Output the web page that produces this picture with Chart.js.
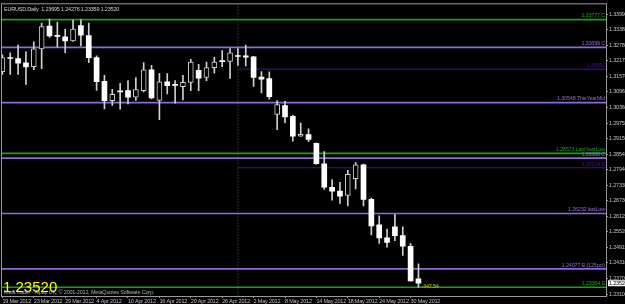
<!DOCTYPE html>
<html>
<head>
<meta charset="utf-8">
<script src="https://cdn.jsdelivr.net/npm/chart.js@4.4.1/dist/chart.umd.min.js"></script>
<style>
  html, body { margin: 0; padding: 0; background: #000; }
  #wrap { width: 625px; height: 304px; }
</style>
</head>
<body>
<div id="wrap"><canvas id="c"></canvas></div>
<script>
// EURUSD daily, 19 Mar 2012 .. 31 May 2012
const symbol = 'EURUSD,Daily';
const dateLabels = ['19 Mar 2012', '23 Mar 2012', '29 Mar 2012', '4 Apr 2012', '10 Apr 2012', '16 Apr 2012',
  '20 Apr 2012', '26 Apr 2012', '2 May 2012', '8 May 2012', '14 May 2012', '18 May 2012', '24 May 2012', '30 May 2012'];

const opens = [1.31758, 1.32277, 1.32258, 1.32093, 1.31950, 1.32643, 1.33528, 1.33143, 1.33105, 1.32951,
  1.33547, 1.33162, 1.32297, 1.31373, 1.30623, 1.30988, 1.31015, 1.30757, 1.31015, 1.31823,
  1.30630, 1.31361, 1.31238, 1.31169, 1.31335, 1.31808, 1.31527, 1.31912, 1.32162, 1.32154,
  1.32362, 1.32374, 1.32335, 1.31538, 1.31488, 1.30092, 1.30438, 1.30015, 1.29245, 1.29307,
  1.28960, 1.28168, 1.27256, 1.27102, 1.26936, 1.27590, 1.28129, 1.26782, 1.25793, 1.25282,
  1.25716, 1.25370, 1.24958, 1.23695];
const highs = [1.32412, 1.32489, 1.32797, 1.32527, 1.32912, 1.33643, 1.33797, 1.33682, 1.33412, 1.33759,
  1.33778, 1.33643, 1.32374, 1.31615, 1.31065, 1.31296, 1.31411, 1.31527, 1.32104, 1.32000,
  1.31692, 1.31681, 1.31411, 1.31615, 1.32231, 1.32039, 1.32131, 1.32323, 1.32577, 1.32654,
  1.32654, 1.32785, 1.32354, 1.31758, 1.31746, 1.30630, 1.30603, 1.30053, 1.29757, 1.29526,
  1.28987, 1.28641, 1.27552, 1.27448, 1.27910, 1.28218, 1.28160, 1.26832, 1.26140, 1.25628,
  1.26205, 1.25716, 1.25062, 1.24276];
const lows = [1.31642, 1.31642, 1.31642, 1.31258, 1.31835, 1.31873, 1.33085, 1.32720, 1.32489, 1.32931,
  1.32758, 1.32104, 1.31027, 1.30307, 1.30438, 1.30296, 1.30499, 1.30630, 1.30969, 1.30692,
  1.29884, 1.30884, 1.30526, 1.30653, 1.31015, 1.31015, 1.31400, 1.31692, 1.31950, 1.31488,
  1.32000, 1.31977, 1.31181, 1.30923, 1.30680, 1.29499, 1.29757, 1.29053, 1.29237, 1.29026,
  1.28141, 1.27167, 1.26755, 1.26628, 1.26524, 1.27190, 1.26524, 1.25397, 1.25074, 1.24920,
  1.25178, 1.24600, 1.23600, 1.23359];
const closes = [1.32297, 1.32266, 1.32085, 1.31939, 1.32643, 1.33509, 1.33143, 1.33124, 1.32951, 1.33412,
  1.33170, 1.32297, 1.31361, 1.30623, 1.30873, 1.30969, 1.30757, 1.31054, 1.31823, 1.30730,
  1.31361, 1.31208, 1.31219, 1.31335, 1.32131, 1.31500, 1.31912, 1.32131, 1.32143, 1.32489,
  1.32343, 1.32316, 1.31527, 1.31461, 1.30784, 1.30476, 1.29988, 1.29245, 1.29314, 1.29114,
  1.28168, 1.27256, 1.27102, 1.26909, 1.27756, 1.28129, 1.26782, 1.25755, 1.25282, 1.25112,
  1.25370, 1.24958, 1.23611, 1.23520];

const priceTicks = [1.23100, 1.23705, 1.24310, 1.24915, 1.25520, 1.26125, 1.26730, 1.27335, 1.27940, 1.28545,
  1.29150, 1.29755, 1.30360, 1.30965, 1.31570, 1.32175, 1.32780, 1.33385, 1.33990];

// horizontal levels
const levelValues = [1.33777, 1.32699, 1.31850, 1.30548, 1.28573, 1.28388, 1.28014, 1.26232, 1.24077, 1.23364];
const levelTexts = ['1.33777 C', '1.32699 C', '1.31850', '1.30548 ThisYearMid', '1.28573 LastYearLow',
  '1.28388 C', '1.28014 E', '1.26232 lastLow', '1.24077 E (125pct)', '1.23364 E'];
const levelKinds = ['green', 'purple', 'indigo', 'purple', 'green', 'purple', 'indigo', 'purple', 'purple', 'green'];
const markerIndex = 30;   // dotted vertical line, indigo levels start here
const plText = '-347.54';

const kindColor = { green: '#18a018', purple: '#8c6cd4', indigo: '#4a1488' };
const fam = '"Liberation Sans Narrow", "Liberation Sans", sans-serif';
const smallFont = '5.5px ' + fam;
const xMax = 76.89;
const last = closes.length - 1;

const levelSets = levelValues.map((v, i) => ({
  type: 'line',
  data: [{ x: levelKinds[i] === 'indigo' ? markerIndex : -1, y: v }, { x: xMax, y: v }],
  borderColor: kindColor[levelKinds[i]],
  borderWidth: levelKinds[i] === 'indigo' ? 1 : 1.6,
  pointRadius: 0,
  order: 5,
}));

const bull = opens.map((o, i) => closes[i] >= o);

const tightText = {
  id: 'tightText',
  beforeDraw(chart) { chart.ctx.letterSpacing = '-0.2px'; },
};

const overlay = {
  id: 'overlay',
  afterDatasetsDraw(chart) {
    const { ctx, chartArea: a, scales: { x, y } } = chart;
    ctx.save();
    // frame
    ctx.strokeStyle = '#9a9a9a';
    ctx.lineWidth = 1;
    ctx.strokeRect(a.left - 0.5, a.top - 0.5, a.right - a.left + 1, a.bottom - a.top + 1);

    // level labels
    ctx.font = smallFont;
    ctx.textAlign = 'right';
    ctx.textBaseline = 'bottom';
    levelValues.forEach((v, i) => {
      ctx.fillStyle = kindColor[levelKinds[i]];
      ctx.fillText(levelTexts[i], a.right - 1, y.getPixelForValue(v) - 1);
    });

    // header
    ctx.textAlign = 'left';
    ctx.textBaseline = 'top';
    ctx.fillStyle = '#d0d0d0';
    ctx.fillText(symbol + '  ' + [opens[last], highs[last], lows[last], closes[last]].map(v => v.toFixed(5)).join(' '), a.left + 2, a.top + 2);

    // profit text near last bar
    ctx.fillStyle = '#c8c800';
    ctx.textBaseline = 'middle';
    ctx.fillText(plText, x.getPixelForValue(last) + 3, y.getPixelForValue(lows[last]) - 1);

    // copyright
    ctx.fillStyle = '#b0b0b0';
    ctx.textBaseline = 'bottom';
    ctx.fillText('MetaTrader - Alpari UK, \u00a9 2001-2012, MetaQuotes Software Corp.', a.left + 2, a.bottom - 1);

    // big last price
    ctx.letterSpacing = '0px';
    ctx.fillStyle = '#ffff00';
    ctx.font = '15px "Liberation Sans", Arial, sans-serif';
    ctx.textBaseline = 'alphabetic';
    ctx.fillText(closes[last].toFixed(5), a.left + 1, a.bottom - 4);

    // current price box on the axis
    const py = y.getPixelForValue(closes[last]);
    ctx.letterSpacing = '-0.2px';
    ctx.fillStyle = '#ffffff';
    ctx.fillRect(a.right + 2, py - 3, 20, 6);
    ctx.fillStyle = '#000000';
    ctx.font = smallFont;
    ctx.textBaseline = 'middle';
    ctx.fillText(closes[last].toFixed(5), a.right + 3, py);
    ctx.restore();
  }
};

new Chart(document.getElementById('c'), {
  type: 'bar',
  data: {
    datasets: [
      {
        label: 'wick',
        data: lows.map((l, i) => ({ x: i, y: [l, highs[i]] })),
        backgroundColor: '#d0d0d0',
        barThickness: 1,
        grouped: false,
        order: 2,
      },
      {
        label: 'body',
        data: opens.map((o, i) => ({ x: i, y: [o, closes[i]] })),
        backgroundColor: bull.map(b => b ? '#000000' : '#ffffff'),
        borderColor: bull.map(b => b ? '#d0d0d0' : '#ffffff'),
        borderWidth: bull.map(b => b ? 1 : 0),
        borderSkipped: false,
        barThickness: 5,
        minBarLength: 1,
        grouped: false,
        order: 1,
      },
      {
        type: 'line',
        label: 'marker',
        data: [{ x: markerIndex, y: 1.2 }, { x: markerIndex, y: 1.4 }],
        borderColor: '#5a5a5a',
        borderWidth: 1,
        borderDash: [1, 2],
        pointRadius: 0,
        order: 6,
      },
      ...levelSets,
    ],
  },
  options: {
    responsive: true,
    maintainAspectRatio: false,
    animation: false,
    layout: { padding: { left: 2, top: 1, right: 0, bottom: 0 } },
    plugins: { legend: { display: false }, tooltip: { enabled: false } },
    scales: {
      x: {
        type: 'linear',
        offset: false,
        min: -0.05,
        max: xMax,
        afterBuildTicks: (s) => { s.ticks = dateLabels.map((d, k) => ({ value: k * 4 })); },
        afterFit: (s) => { s.height = 8; },
        grid: { drawOnChartArea: false, drawTicks: true, tickLength: 2, color: '#9a9a9a', offset: false },
        border: { color: '#9a9a9a' },
        ticks: {
          autoSkip: false,
          maxRotation: 0,
          align: 'start',
          padding: 0,
          color: '#c0c0c0',
          font: { size: 5.5, family: fam },
          callback: (v) => dateLabels[Math.round(v / 4)] || '',
        },
      },
      y: {
        position: 'right',
        min: 1.23023,
        max: 1.34375,
        afterBuildTicks: (s) => { s.ticks = priceTicks.map(v => ({ value: v })); },
        afterFit: (s) => { s.width = 19; },
        grid: { drawOnChartArea: false, drawTicks: true, tickLength: 2, color: '#9a9a9a' },
        border: { color: '#9a9a9a' },
        ticks: {
          padding: 1,
          color: '#c0c0c0',
          font: { size: 5.5, family: fam },
          callback: (v) => v.toFixed(5),
        },
      },
    },
  },
  plugins: [tightText, overlay],
});
</script>
</body>
</html>
